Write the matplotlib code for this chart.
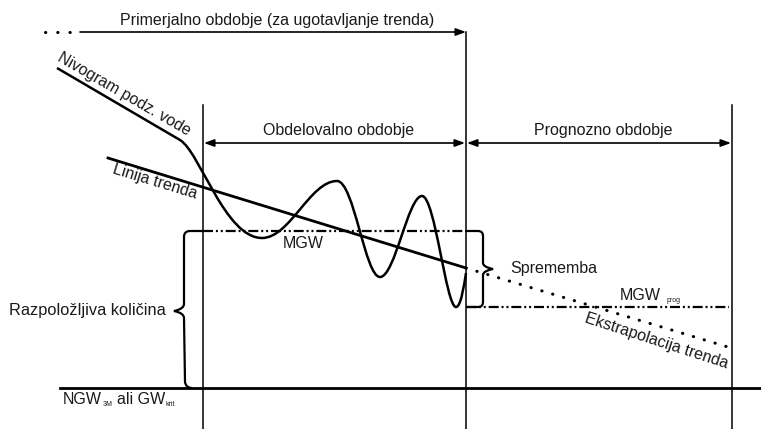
import matplotlib
matplotlib.use("Agg")
import matplotlib.pyplot as plt
from matplotlib.path import Path
from matplotlib.patches import PathPatch

plt.rcParams['font.family'] = ['Liberation Sans', 'DejaVu Sans']

# ---- schematic data (pixel-space coordinates of the diagram) ----
period_x = [203, 466, 732]          # start analysis, end analysis / start forecast, end forecast
top_arrow_y = 32
period_arrow_y = 143
baseline_y = 388                     # NGW_3M / GW_krit
mgw_y = 231
mgw_prog_y = 307
trend_x = [108, 466]
trend_y = [158, 268]
extrap_x = [466, 728]
extrap_y = [268, 347]
niv_start = [(57, 68), (180, 140)]
# cubic bezier segments: (c1, c2, end)
niv_segments = [
    ((200, 152), (225, 238), (262, 238)),
    ((290, 238), (310, 181), (337, 181)),
    ((354, 181), (365, 277), (380, 277)),
    ((395, 277), (408, 196), (422, 196)),
    ((435, 196), (446, 307), (456, 307)),
    ((461, 307), (464, 285), (466, 273)),
]

labels = {
    'top': 'Primerjalno obdobje (za ugotavljanje trenda)',
    'anal': 'Obdelovalno obdobje',
    'prog': 'Prognozno obdobje',
}

FS = 11.5
SUB = 5
TC = '#1a1a1a'

W, H = 761, 429
fig = plt.figure(figsize=(W / 100, H / 100), dpi=100)
ax = fig.add_axes([0, 0, 1, 1])
ax.set_xlim(0, W)
ax.set_ylim(H, 0)
ax.axis('off')

K = 'black'
# vertical lines
ax.plot([period_x[0]] * 2, [105, H], color=K, lw=1.1)
ax.plot([period_x[1]] * 2, [top_arrow_y, H], color=K, lw=1.1)
ax.plot([period_x[2]] * 2, [105, H], color=K, lw=1.1)

# baseline
ax.plot([60, W], [baseline_y] * 2, color=K, lw=2)

# top arrow
ax.plot([45, 80], [top_arrow_y] * 2, color=K, lw=2.2, linestyle=(0, (0.1, 3.9)),
        dash_capstyle='round')
ax.annotate('', xy=(period_x[1], top_arrow_y), xytext=(80, top_arrow_y),
            arrowprops=dict(arrowstyle='-|>,head_length=0.6,head_width=0.22',
                            color=K, lw=1.2, shrinkA=0, shrinkB=0))
ax.text(277, 20, labels['top'], ha='center', va='center', fontsize=FS, color=TC)

# period arrows
for x0, x1, lab in [(period_x[0], period_x[1], labels['anal']),
                    (period_x[1], period_x[2], labels['prog'])]:
    ax.annotate('', xy=(x1 - 1, period_arrow_y), xytext=(x0 + 1, period_arrow_y),
                arrowprops=dict(arrowstyle='<|-|>,head_length=0.6,head_width=0.22',
                                color=K, lw=1.2, shrinkA=0, shrinkB=0))
    ax.text((x0 + x1) / 2 + 4, 130, lab, ha='center', va='center', fontsize=FS, color=TC)

# MGW lines
dd = (0, (4.5, 1.3, 0.9, 1.3, 0.9, 1.3))
ax.plot([period_x[0], period_x[1]], [mgw_y] * 2, color=K, lw=1.6, linestyle=dd)
ax.plot([period_x[1], period_x[2] - 3], [mgw_prog_y] * 2, color=K, lw=1.6, linestyle=dd)
ax.text(303, 243, 'MGW', ha='center', va='center', fontsize=FS, color=TC)
ax.text(620, 296, 'MGW', ha='left', va='center', fontsize=FS, color=TC)
ax.text(667, 301, 'prog', ha='left', va='center', fontsize=SUB, color=TC)

# left brace (Razpoložljiva količina)
lb = Path([(203, mgw_y), (190, mgw_y), (184, mgw_y), (184, 237),
           (184, 304), (184, 309), (174, 311),
           (184, 313), (184, 318), (185, 382),
           (186, 388), (192, 388)],
          [Path.MOVETO, Path.LINETO, Path.CURVE3, Path.CURVE3,
           Path.LINETO, Path.CURVE3, Path.CURVE3,
           Path.CURVE3, Path.CURVE3, Path.LINETO,
           Path.CURVE3, Path.CURVE3])
ax.add_patch(PathPatch(lb, fill=False, lw=1.6, ec=K))
ax.text(166, 311, 'Razpoložljiva količina', ha='right', va='center', fontsize=FS + 0.3,
        color=TC)

# right brace (Sprememba)
rb = Path([(466, mgw_y), (478, mgw_y), (483, mgw_y), (483, 236),
           (483, 263), (483, 267), (493, 269),
           (483, 271), (483, 275), (483, 302),
           (483, mgw_prog_y), (478, mgw_prog_y), (466, mgw_prog_y)],
          [Path.MOVETO, Path.LINETO, Path.CURVE3, Path.CURVE3,
           Path.LINETO, Path.CURVE3, Path.CURVE3,
           Path.CURVE3, Path.CURVE3, Path.LINETO,
           Path.CURVE3, Path.CURVE3, Path.LINETO])
ax.add_patch(PathPatch(rb, fill=False, lw=1.6, ec=K))
ax.text(510, 268, 'Sprememba', ha='left', va='center', fontsize=FS, color=TC)

# trend line and extrapolation
ax.plot(trend_x, trend_y, color=K, lw=2)
ax.plot(extrap_x, extrap_y, color=K, lw=2.2, linestyle=(0, (0.1, 3.6)),
        dash_capstyle='round')
ax.text(155, 182, 'Linija trenda', ha='center', va='center', fontsize=FS, color=TC,
        rotation=-17, rotation_mode='anchor')
ax.text(657, 341, 'Ekstrapolacija trenda', ha='center', va='center', fontsize=FS, color=TC,
        rotation=-18, rotation_mode='anchor')

# nivogram
verts = list(niv_start)
codes = [Path.MOVETO, Path.LINETO]
for c1, c2, e in niv_segments:
    verts += [c1, c2, e]
    codes += [Path.CURVE4] * 3
ax.add_patch(PathPatch(Path(verts, codes), fill=False, lw=1.8, ec=K))
ax.text(124, 94, 'Nivogram podz. vode', ha='center', va='center', fontsize=FS, color=TC,
        rotation=-30, rotation_mode='anchor')

# baseline label with small subscripts, chained left to right
t1 = ax.text(63, 404, 'NGW', ha='left', va='baseline', fontsize=FS, color=TC)
t2 = ax.annotate('3M', xy=(1, 405.5), xycoords=(t1, 'data'), xytext=(0.8, 0),
                 textcoords='offset points', ha='left', va='baseline',
                 fontsize=SUB, color=TC)
t3 = ax.annotate('ali GW', xy=(1, 404), xycoords=(t2, 'data'), xytext=(2.5, 0),
                 textcoords='offset points', ha='left', va='baseline',
                 fontsize=FS, color=TC)
ax.annotate('krit', xy=(1, 405.5), xycoords=(t3, 'data'), xytext=(0.8, 0),
            textcoords='offset points', ha='left', va='baseline',
            fontsize=SUB, color=TC)

fig.savefig('out.png', dpi=100)
